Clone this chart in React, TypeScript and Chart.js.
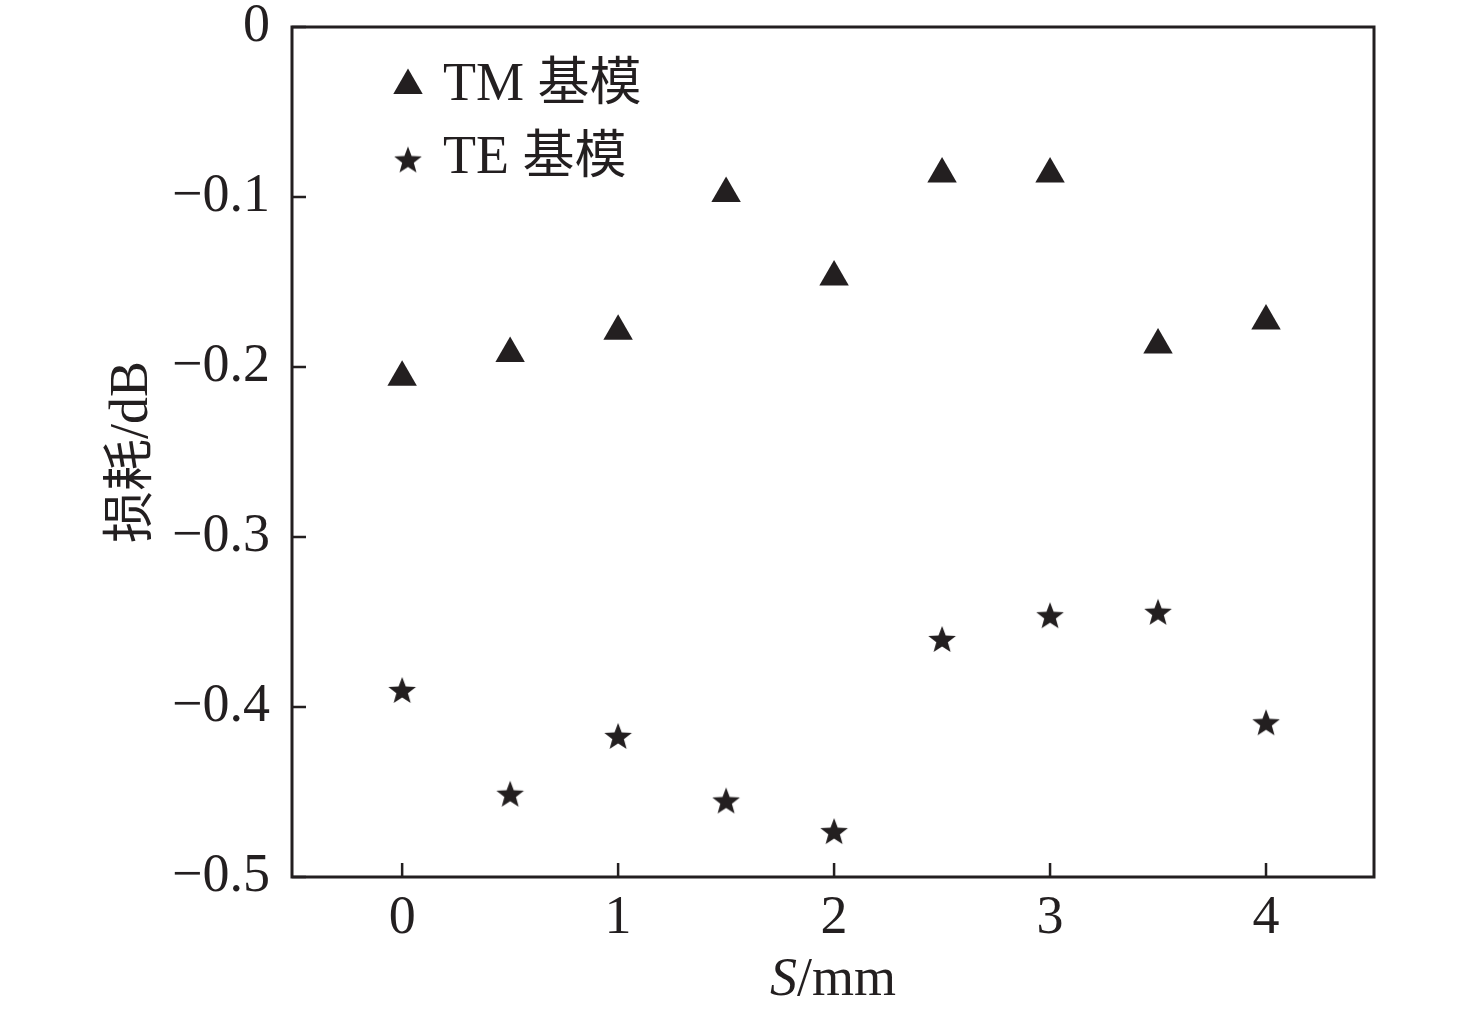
import { useEffect, useRef } from "react";
import { Chart, registerables, type Plugin } from "chart.js";
import { drawPoint } from "chart.js/helpers";

Chart.register(...registerables);

// S (mm) vs loss (dB)
const sValues = [0, 0.5, 1, 1.5, 2, 2.5, 3, 3.5, 4];
const tmLoss = [-0.206, -0.192, -0.179, -0.098, -0.147, -0.0865, -0.0865, -0.187, -0.173];
const teLoss = [-0.39, -0.451, -0.417, -0.455, -0.473, -0.36, -0.346, -0.344, -0.409];

const seriesNames = ["TM 基模", "TE 基模"];
const xTickValues = [0, 1, 2, 3, 4];
const xTickLabels = ["0", "1", "2", "3", "4"];
const yTickValues = [0, -0.1, -0.2, -0.3, -0.4, -0.5];
const yTickLabels = ["0", "−0.1", "−0.2", "−0.3", "−0.4", "−0.5"];
const yTitle = "损耗/dB";
const xTitle = [{ text: "S", italic: true }, { text: "/mm", italic: false }];

const INK = "#231f20";
const SERIF = '"Liberation Serif", "Times New Roman", serif';
const CJK = '"Noto Sans CJK SC", sans-serif';

type Run = { text: string; italic?: boolean; cjk?: boolean };

function splitRuns(text: string): Run[] {
    const parts = text.match(/[\u3000-\u9fff\uff00-\uffef]+|[^\u3000-\u9fff\uff00-\uffef]+/g) || [];
    return parts.map(t => ({ text: t, cjk: /[\u3000-\u9fff\uff00-\uffef]/.test(t) }));
}

function runFont(r: Run) {
    if (r.cjk) return `52px ${CJK}`;
    return `${r.italic ? "italic " : ""}54px ${SERIF}`;
}

// draws mixed latin / CJK text on one baseline
function drawRuns(ctx: CanvasRenderingContext2D, runs: Run[], x: number, y: number, align: "left" | "center") {
    let total = 0;
    const widths = runs.map(r => {
        ctx.font = runFont(r);
        const w = ctx.measureText(r.text).width;
        total += w;
        return w;
    });
    let cx = align === "center" ? x - total / 2 : x;
    ctx.textAlign = "left";
    ctx.textBaseline = "alphabetic";
    runs.forEach((r, i) => {
        ctx.font = runFont(r);
        ctx.fillText(r.text, cx, y);
        cx += widths[i];
    });
}

function makeStar(): HTMLCanvasElement {
    const c = document.createElement("canvas");
    c.width = 32;
    c.height = 32;
    const ctx = c.getContext("2d")!;
    const R = 14.5;
    const r = R * 0.42;
    const cx = 16;
    const cy = 16 + R * 0.0955;
    ctx.beginPath();
    for (let i = 0; i < 10; i++) {
        const a = -Math.PI / 2 + (i * Math.PI) / 5;
        const rad = i % 2 === 0 ? R : r;
        const px = cx + Math.cos(a) * rad;
        const py = cy + Math.sin(a) * rad;
        if (i === 0) ctx.moveTo(px, py);
        else ctx.lineTo(px, py);
    }
    ctx.closePath();
    ctx.fillStyle = INK;
    ctx.fill();
    return c;
}

const frameAndText: Plugin = {
    id: "frameAndText",
    afterDraw(chart) {
        const { ctx, chartArea: a, scales } = chart;
        ctx.save();
        ctx.strokeStyle = INK;
        ctx.fillStyle = INK;

        // box
        ctx.lineWidth = 3;
        ctx.strokeRect(a.left, a.top, a.right - a.left, a.bottom - a.top);

        // inward ticks
        ctx.lineWidth = 2.5;
        ctx.beginPath();
        xTickValues.forEach(v => {
            const px = scales.x.getPixelForValue(v);
            ctx.moveTo(px, a.bottom);
            ctx.lineTo(px, a.bottom - 14);
        });
        yTickValues.forEach(v => {
            const py = scales.y.getPixelForValue(v);
            ctx.moveTo(a.left, py);
            ctx.lineTo(a.left + 14, py);
        });
        ctx.stroke();

        // legend
        const styles = chart.data.datasets.map(d => (d as any).pointStyle);
        const lx = a.left + 116;
        const rows = [
            { my: a.top + 58.5, ty: a.top + 73 },
            { my: a.top + 132.5, ty: a.top + 146 },
        ];
        rows.forEach((row, i) => {
            ctx.fillStyle = INK;
            drawPoint(ctx, { pointStyle: styles[i], radius: 17, rotation: 0, borderWidth: 0 } as any, lx, row.my);
            drawRuns(ctx, splitRuns(seriesNames[i]), a.left + 151, row.ty, "left");
        });

        // axis titles
        drawRuns(ctx, xTitle, (a.left + a.right) / 2, 995, "center");
        ctx.translate(147, (a.top + a.bottom) / 2);
        ctx.rotate(-Math.PI / 2);
        drawRuns(ctx, splitRuns(yTitle), 0, 0, "center");
        ctx.restore();
    },
};

export default function App() {
    const canvasRef = useRef<HTMLCanvasElement>(null);

    useEffect(() => {
        if (!canvasRef.current) return;
        const star = makeStar();
        const tickFont = { family: SERIF, size: 54, lineHeight: 1.2 };

        const chart = new Chart(canvasRef.current, {
            type: "scatter",
            data: {
                datasets: [
                    {
                        label: seriesNames[0],
                        data: sValues.map((s, i) => ({ x: s, y: tmLoss[i] })),
                        pointStyle: "triangle",
                        pointRadius: 17,
                        pointBorderWidth: 0,
                        backgroundColor: INK,
                        borderColor: INK,
                    },
                    {
                        label: seriesNames[1],
                        data: sValues.map((s, i) => ({ x: s, y: teLoss[i] })),
                        pointStyle: star,
                        pointRadius: 15,
                        pointBorderWidth: 0,
                        backgroundColor: INK,
                        borderColor: INK,
                    },
                ],
            },
            options: {
                responsive: true,
                maintainAspectRatio: false,
                animation: false,
                layout: { padding: { left: 0, top: 27, right: 102, bottom: 0 } },
                plugins: {
                    legend: { display: false },
                    tooltip: { enabled: false },
                    title: { display: false },
                },
                scales: {
                    x: {
                        type: "linear",
                        min: -0.51,
                        max: 4.5,
                        grid: { display: false, drawTicks: false },
                        border: { display: false },
                        ticks: {
                            color: INK,
                            font: tickFont,
                            padding: 9,
                            maxRotation: 0,
                            autoSkip: false,
                            callback: (v) => xTickLabels[xTickValues.indexOf(Number(v))] ?? "",
                        },
                        afterBuildTicks: (s) => { s.ticks = xTickValues.map(value => ({ value })); },
                        afterFit: (s) => {
                            s.height = 141;
                            s.paddingLeft = 0;
                            s.paddingRight = 0;
                        },
                    },
                    y: {
                        type: "linear",
                        min: -0.5,
                        max: 0,
                        grid: { display: false, drawTicks: false },
                        border: { display: false },
                        ticks: {
                            color: INK,
                            font: tickFont,
                            padding: 22,
                            autoSkip: false,
                            callback: (v) => yTickLabels[yTickValues.indexOf(Number(v))] ?? "",
                        },
                        afterBuildTicks: (s) => { s.ticks = yTickValues.map(value => ({ value })); },
                        afterFit: (s) => {
                            s.width = 292;
                            s.paddingTop = 0;
                            s.paddingBottom = 0;
                        },
                    },
                },
            },
            plugins: [frameAndText],
        });

        return () => { chart.destroy(); };
    }, []);

    return (
        <div style={{ position: "fixed", left: 0, top: 0, width: 1476, height: 1018, background: "#fff" }}>
            <canvas ref={canvasRef} />
        </div>
    );
}
